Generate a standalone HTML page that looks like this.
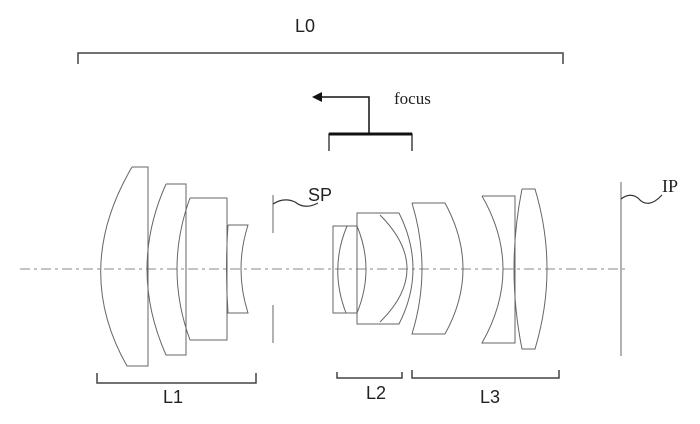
<!DOCTYPE html>
<html><head><style>body{margin:0;background:#fff}svg{display:block}</style></head><body>
<svg width="700" height="424" viewBox="0 0 700 424" xmlns="http://www.w3.org/2000/svg">
<g fill="none" stroke="#666" stroke-width="1">
<line x1="20" y1="269" x2="628" y2="269" stroke-dasharray="10,4,3,4" stroke="#888"/>
<path d="M132,167 L148,167 L148,366 L127,366 Q72,269 132,167"/>
<path d="M166,184 L186,184 L186,355 L166,355 Q128,269 166,184"/>
<path d="M190,198 L227,198 L227,340 L190,340 Q164,269 190,198"/>
<path d="M228,225 L248,225 Q234,269 248,313 L228,313 Q225,269 228,225"/>
<line x1="273" y1="195" x2="273" y2="233"/>
<line x1="273" y1="305" x2="273" y2="343"/>
<path d="M333,226 L357,226 Q375,269 357,313 L333,313 Z"/>
<path d="M347,226 Q329,269 346,313"/>
<path d="M357,213 L399,213 Q427,269 399,324 L357,324 Z"/>
<path d="M380,215 Q434,269 380,322"/>
<path d="M412,203 L445,203 Q481,269 445,334 L412,334 Q432,269 412,203"/>
<path d="M482,196 L515,196 L515,343 L482,343 Q524,269 482,196"/>
<path d="M522,189 L535,189 Q559,269 535,349 L522,349 Q506,269 522,189"/>
<line x1="621" y1="182" x2="621" y2="356"/>
</g>
<g fill="none" stroke="#333" stroke-width="1.2">
<path d="M273,204 Q284,197 295,202 Q305,210 318,203"/>
<path d="M621,199 Q630,192 638,198 Q648,210 662,195"/>
</g>
<g fill="none" stroke="#444" stroke-width="1.5">
<path d="M78,64 L78,53 L563,53 L563,64"/>
<path d="M97,373 L97,383 L256,383 L256,373"/>
<path d="M337,372 L337,378 L402,378 L402,372"/>
<path d="M412,370 L412,378 L559,378 L559,370"/>
<path d="M329,151 L329,134 L412,134 L412,151"/>
</g>
<line x1="329" y1="134" x2="412" y2="134" stroke="#111" stroke-width="3"/>
<path d="M369,134 L369,97 L320,97" fill="none" stroke="#111" stroke-width="1.5"/>
<path d="M312,97 L322,92 L322,102 Z" fill="#111"/>
<g font-family="Liberation Sans, sans-serif" font-size="18" fill="#222">
<text x="295" y="32">L0</text>
<text x="308" y="201">SP</text>
<text x="163" y="403">L1</text>
<text x="366" y="399">L2</text>
<text x="480" y="403">L3</text>
</g>
<text x="662" y="192" font-family="Liberation Serif, serif" font-size="18" fill="#222">IP</text>
<text x="394" y="104" font-family="Liberation Serif, serif" font-size="17" fill="#222">focus</text>
</svg>
</body></html>
